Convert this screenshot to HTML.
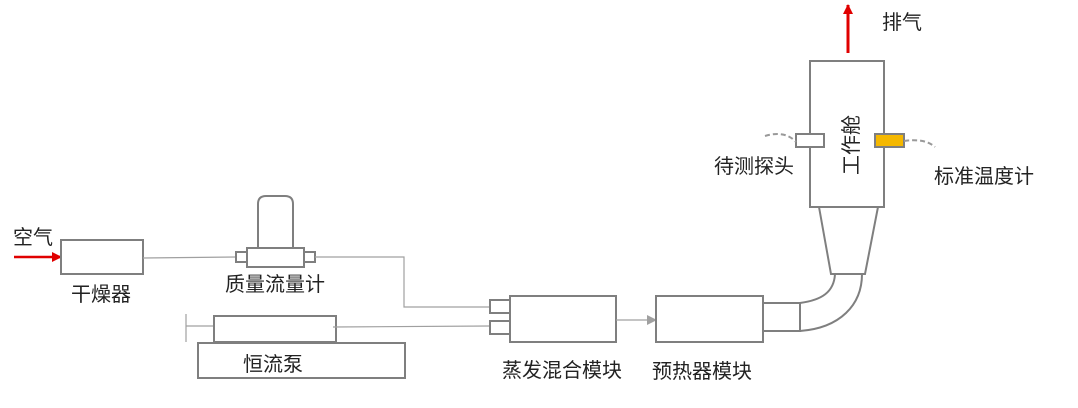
<!DOCTYPE html>
<html><head><meta charset="utf-8"><style>
html,body{margin:0;padding:0;background:#fff;}
svg{display:block;}
text{font-family:"Liberation Sans","Noto Sans CJK SC",sans-serif;font-size:20px;fill:#222;}
</style></head><body>
<svg width="1078" height="408" viewBox="0 0 1078 408" xmlns="http://www.w3.org/2000/svg">
<defs>
<marker id="ar" markerWidth="10" markerHeight="10" refX="9" refY="5" orient="auto" markerUnits="userSpaceOnUse"><path d="M0,0 L10,5 L0,10 z" fill="#e00000"/></marker>
<marker id="ag" markerWidth="10" markerHeight="10" refX="9" refY="5" orient="auto" markerUnits="userSpaceOnUse"><path d="M0,0 L10,5 L0,10 z" fill="#a0a0a0"/></marker>
</defs>
<g fill="none" stroke="#7f7f7f" stroke-width="2">
<line x1="14" y1="257" x2="61" y2="257" stroke="#e00000" stroke-width="2.5" marker-end="url(#ar)"/>
<rect x="61" y="240" width="82" height="34" fill="#fff"/>
<line x1="143" y1="258" x2="236" y2="257" stroke="#a0a0a0" stroke-width="1.2"/>
<path d="M258,248 V204 Q258,196 266,196 H285 Q293,196 293,204 V248" fill="#fff"/>
<rect x="247" y="248" width="57" height="19" fill="#fff"/>
<rect x="236" y="252" width="11" height="10" fill="#fff"/>
<rect x="304" y="252" width="11" height="10" fill="#fff"/>
<polyline points="315,257 404,257 404,307 490,307" stroke="#a0a0a0" stroke-width="1.2"/>
<line x1="186" y1="314" x2="186" y2="342" stroke="#a0a0a0" stroke-width="1.2"/>
<line x1="186" y1="326" x2="214" y2="326" stroke="#a0a0a0" stroke-width="1.2"/>
<rect x="214" y="316" width="122" height="26" fill="#fff"/>
<rect x="198" y="343" width="207" height="35" fill="#fff"/>
<line x1="333" y1="327" x2="490" y2="326" stroke="#a0a0a0" stroke-width="1.2"/>
<rect x="490" y="300" width="20" height="13" fill="#fff"/>
<rect x="490" y="321" width="20" height="13" fill="#fff"/>
<rect x="510" y="296" width="106" height="46" fill="#fff"/>
<line x1="616" y1="320" x2="656" y2="320" stroke="#a0a0a0" stroke-width="1.2" marker-end="url(#ag)"/>
<rect x="656" y="296" width="107" height="46" fill="#fff"/>
<rect x="763" y="303" width="37" height="28" fill="#fff"/>
<path d="M800,303 C822,300 834,292 835,274"/>
<path d="M800,331 C840,328 862,305 862,274"/>
<path d="M819,207 L831,274 L865,274 L878,207" fill="#fff"/>
<rect x="810" y="61" width="74" height="146" fill="#fff"/>
<rect x="796" y="134" width="28" height="13" fill="#fff"/>
<rect x="875" y="134" width="29" height="13" fill="#f5b800"/>
<path d="M765,136 Q785,130 796,142" stroke="#999" stroke-dasharray="5,3" stroke-width="2"/>
<path d="M904,141 Q925,138 935,147" stroke="#999" stroke-dasharray="5,3" stroke-width="2"/>
<line x1="848" y1="53" x2="848" y2="5" stroke="#e00000" stroke-width="3" marker-end="url(#ar)"/>
</g>
<text x="13" y="244">空气</text>
<text x="71" y="301">干燥器</text>
<text x="225" y="291">质量流量计</text>
<text x="243" y="371">恒流泵</text>
<text x="502" y="377">蒸发混合模块</text>
<text x="652" y="378">预热器模块</text>
<text x="882" y="29">排气</text>
<text x="714" y="173">待测探头</text>
<text x="934" y="183">标准温度计</text>
<text transform="translate(858,145) rotate(-90)" text-anchor="middle">工作舱</text>
</svg>
</body></html>
